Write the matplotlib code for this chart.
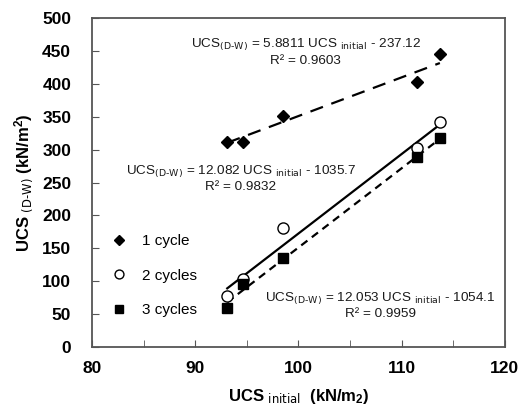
import matplotlib
matplotlib.use('Agg')
import matplotlib.pyplot as plt
import numpy as np

plt.rcParams.update({
    'font.family': ['Liberation Sans', 'DejaVu Sans'],
    'mathtext.default': 'regular',
})

ucs_initial = [93.1, 94.6, 98.5, 111.5, 113.7]
cycle1 = [311, 312, 351, 402, 445]
cycle2 = [78, 103, 181, 302, 342]
cycle3 = [59, 95, 135, 289, 317]

# regression coefficients (slope, intercept) as printed on the chart
fit1 = (5.8811, -237.12)
fit2 = (12.082, -1035.7)
fit3 = (12.053, -1054.1)

fig = plt.figure(figsize=(5.21, 4.11), dpi=100)
ax = fig.add_axes([0.1766, 0.1557, 0.7925, 0.8005])

ax.plot(ucs_initial, cycle1, 'D', color='black', markersize=6, label='1 cycle', zorder=3)
ax.plot(ucs_initial, cycle2, 'o', mfc='white', mec='black', mew=1.0, markersize=8,
        label='2 cycles', zorder=3)
ax.plot(ucs_initial, cycle3, 's', color='black', markersize=7, label='3 cycles', zorder=3)

xf = np.array([ucs_initial[0], ucs_initial[-1]])
ax.plot(xf, fit1[0] * xf + fit1[1], color='black', lw=1.6, dashes=(6, 4))
ax.plot(xf, fit2[0] * xf + fit2[1], color='black', lw=1.6)
ax.plot(xf, fit3[0] * xf + fit3[1], color='black', lw=1.6, dashes=(3.5, 2.5))

ax.set_xlim(80, 120)
ax.set_ylim(0, 500)
ax.set_xticks([80, 90, 100, 110, 120])
ax.set_xticks([85, 95, 105, 115], minor=True)
ax.set_yticks(np.arange(0, 501, 50))
ax.tick_params(axis='both', which='both', direction='in', labelsize=12.5, color='#555555')
ax.tick_params(axis='both', which='major', length=5)
ax.tick_params(axis='y', which='major', pad=15)
ax.tick_params(axis='x', which='major', pad=10)
ax.tick_params(axis='x', which='minor', length=5)
for lab in ax.get_xticklabels() + ax.get_yticklabels():
    lab.set_fontweight('bold')
for sp in ax.spines.values():
    sp.set_color('#555555')
    sp.set_linewidth(1.3)

fs = 9.7
tc = '#1a1a1a'
sub = r'$_{\text{(D-W)}}$'
ini = r'$_{\text{initial}}$'
ax.text(100.7, 459, f'UCS{sub} = 5.8811 UCS {ini} - 237.12', ha='center', va='center', fontsize=fs, color=tc)
ax.text(100.7, 435, 'R² = 0.9603', ha='center', va='center', fontsize=fs, color=tc)
ax.text(94.4, 267, f'UCS{sub} = 12.082 UCS {ini} - 1035.7', ha='center', va='center', fontsize=fs, color=tc)
ax.text(94.4, 243, 'R² = 0.9832', ha='center', va='center', fontsize=fs, color=tc)
ax.text(107.9, 74, f'UCS{sub} = 12.053 UCS {ini} - 1054.1', ha='center', va='center', fontsize=fs, color=tc)
ax.text(107.9, 50, 'R² = 0.9959', ha='center', va='center', fontsize=fs, color=tc)

leg = ax.legend(loc='upper left', bbox_to_anchor=(0.01, 0.385), frameon=False, fontsize=11,
                handletextpad=0.9, labelspacing=1.35, handlelength=1.2, markerscale=0.8)

ax.set_ylabel(r'UCS $_{\text{(D-W)}}$ (kN/m$^2$)', fontsize=12, fontweight='bold', labelpad=4)
ax.set_xlabel(r'UCS $_{\text{initial}}$  (kN/m$_2$)', fontsize=12, fontweight='bold', labelpad=8)

fig.savefig('out.png', dpi=100, facecolor='white')
